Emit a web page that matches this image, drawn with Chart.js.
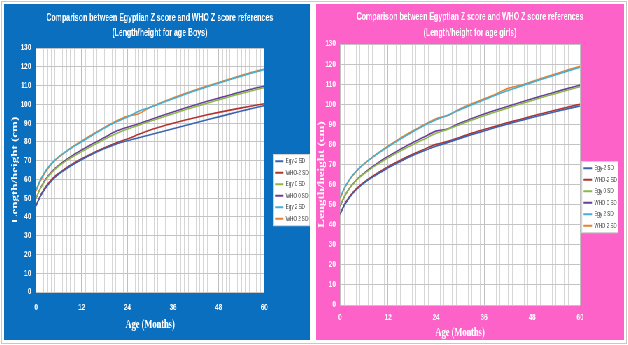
<!DOCTYPE html>
<html lang="en">
<head>
  <meta charset="UTF-8">
  <title>Egyptian vs WHO Z score - Length/height for age</title>
  <script src="https://cdn.jsdelivr.net/npm/chart.js"></script>
  <style>
    body {
      margin: 0;
      width: 628px;
      height: 345px;
      background: #fff;
      position: relative;
      overflow: hidden;
    }
    .frame {
      position: absolute;
      left: 1px; top: 1px;
      width: 624px; height: 341px;
      border: 1px solid #c8c8c8;
    }
    .panel {
      position: absolute;
      top: 4px;
      height: 336px;
      overflow: hidden;
    }
    #boysPanel { left: 4px; width: 306px; }
    #girlsPanel { left: 316px; width: 308px; }
    /* the reference is squeezed sideways, so draw wider and scale down */
    .inner {
      height: 336px;
      transform: scaleX(0.7);
      transform-origin: 0 0;
    }
    #boysPanel .inner { width: 437px; background: #0b6fc0; }
    #girlsPanel .inner { width: 440px; background: #fc62c8; }
  </style>
</head>
<body>
  <div class="frame"></div>
  <div class="panel" id="boysPanel"><div class="inner"><canvas id="boysChart"></canvas></div></div>
  <div class="panel" id="girlsPanel"><div class="inner"><canvas id="girlsChart"></canvas></div></div>

  <script>
    // age in months
    const months = [0,1,2,3,4,5,6,7,8,9,10,11,12,15,18,21,24,27,30,33,36,39,42,45,48,51,54,57,60];

    const seriesNames = ['Egy-2 SD', 'WHO-2 SD', 'Egy 0 SD', 'WHO 0 SD', 'Egy 2 SD', 'WHO 2 SD'];
    const seriesColors = ['#3b63b2', '#b0342e', '#8cb847', '#6a3d9e', '#44b0d2', '#ef7d2c'];

    // boys (cm)
    const boysEgyMinus2 = [45.8,50.3,53.8,56.7,59.1,61.1,62.8,64.3,65.7,67.0,68.2,69.4,70.5,73.6,76.4,78.8,80.6,82.2,83.8,85.4,87.0,88.6,90.2,91.8,93.3,94.9,96.4,97.9,99.3];
    const boysWhoMinus2 = [46.1,50.8,54.4,57.3,59.7,61.7,63.3,64.8,66.2,67.5,68.7,69.9,71.0,74.1,76.9,79.4,81.5,84.0,86.3,88.2,89.9,91.5,93.0,94.4,95.7,96.9,98.1,99.2,100.3];
    const boysEgy0 = [50.2,54.6,58.1,61.0,63.4,65.4,67.1,68.6,70.0,71.3,72.5,73.7,74.8,78.2,81.4,84.3,86.8,88.9,91.0,93.0,95.0,97.0,98.8,100.6,102.4,104.2,105.8,107.4,108.9];
    const boysWho0 = [49.9,54.7,58.4,61.4,63.9,65.9,67.6,69.2,70.6,72.0,73.3,74.5,75.7,79.1,82.3,85.6,87.8,89.6,91.8,93.9,95.9,97.9,99.8,101.6,103.3,105.0,106.7,108.3,109.6];
    const boysEgyPlus2 = [54.5,59.3,63.0,66.0,68.4,70.4,72.1,73.6,75.0,76.3,77.6,78.8,80.0,83.8,87.4,90.6,93.2,96.3,98.4,100.7,103.0,105.2,107.4,109.4,111.3,113.2,115.0,116.8,118.5];
    const boysWhoPlus2 = [53.7,58.6,62.4,65.5,68.0,70.1,71.9,73.5,75.0,76.5,77.9,79.2,80.5,84.2,87.7,91.0,93.6,95.0,98.4,101.0,103.4,105.6,107.7,109.7,111.6,113.5,115.4,117.2,118.8];

    // girls (cm)
    const girlsEgyMinus2 = [45.0,49.3,52.5,55.1,57.3,59.1,60.7,62.2,63.5,64.8,66.0,67.1,68.3,71.4,74.3,76.8,79.1,81.0,83.0,84.9,86.7,88.5,90.2,91.8,93.4,94.9,96.4,97.8,99.1];
    const girlsWhoMinus2 = [45.4,49.8,53.0,55.6,57.8,59.6,61.2,62.7,64.0,65.3,66.5,67.7,68.9,72.0,74.9,77.5,80.0,81.5,83.6,85.6,87.4,89.1,90.9,92.4,94.1,95.6,97.1,98.6,100.0];
    const girlsEgy0 = [49.6,53.9,57.1,59.7,61.9,63.8,65.4,66.9,68.3,69.6,70.9,72.1,73.3,76.6,79.7,82.6,85.5,87.6,89.9,92.2,94.3,96.3,98.2,100.1,101.9,103.7,105.4,107.1,108.7];
    const girlsWho0 = [49.1,53.7,57.1,59.8,62.1,64.0,65.7,67.3,68.7,70.1,71.5,72.8,74.0,77.5,80.7,83.7,86.6,87.8,90.7,92.9,95.1,97.1,99.0,100.9,102.7,104.5,106.2,107.9,109.5];
    const girlsEgyPlus2 = [53.6,58.1,61.5,64.3,66.6,68.6,70.3,71.9,73.4,74.8,76.2,77.5,78.8,82.6,86.1,89.4,92.3,94.6,97.3,99.8,102.2,104.6,106.8,108.9,110.9,112.8,114.7,116.6,118.4];
    const girlsWhoPlus2 = [52.9,57.6,61.1,64.0,66.4,68.5,70.3,71.9,73.5,75.0,76.4,77.8,79.2,83.0,86.5,89.8,92.8,94.4,97.7,100.3,102.7,105.1,107.9,109.4,111.3,113.3,115.2,117.1,118.9];

    const yTicks = { min: 0, max: 130, step: 10 };
    const xTicks = { min: 0, max: 60, major: 12 };

    // white plot area + white legend box
    const whiteBoxes = {
      id: 'whiteBoxes',
      beforeDraw(chart) {
        const { ctx, chartArea: a } = chart;
        ctx.save();
        ctx.fillStyle = '#fff';
        ctx.fillRect(a.left, a.top, a.right - a.left, a.bottom - a.top);
        const hb = chart.legend && chart.legend.legendHitBoxes;
        if (hb && hb.length) {
          const l = Math.min(...hb.map(h => h.left)) - 3;
          const r = Math.max(...hb.map(h => h.left + h.width)) + 2;
          const t = Math.min(...hb.map(h => h.top)) - 4;
          const b = Math.max(...hb.map(h => h.top + h.height)) + 4;
          ctx.fillRect(l, t, r - l, b - t);
          ctx.strokeStyle = '#cfcfcf';
          ctx.lineWidth = 1;
          ctx.strokeRect(l + 0.5, t + 0.5, r - l - 1, b - t - 1);
        }
        ctx.restore();
      }
    };

    function makeChart(id, titleLines, series, geo) {
      const datasets = series.map((vals, i) => ({
        label: seriesNames[i],
        data: months.map((m, k) => ({ x: m, y: vals[k] })),
        borderColor: seriesColors[i],
        backgroundColor: seriesColors[i],
        borderWidth: 1.6,
        pointRadius: 0,
        cubicInterpolationMode: 'monotone',
        fill: false
      }));

      const tickFont = { family: "'Liberation Sans', Arial, sans-serif", size: 9, weight: 'bold' };
      const axisTitleFont = { family: "'Liberation Serif', serif", size: 13, weight: 'bold' };

      new Chart(document.getElementById(id), {
        type: 'line',
        data: { datasets },
        options: {
          responsive: true,
          maintainAspectRatio: false,
          animation: false,
          layout: { padding: { left: 0, right: geo.padRight, top: 0, bottom: 0 } },
          plugins: {
            title: {
              display: true,
              text: titleLines,
              color: '#fff',
              font: { family: "'Liberation Sans Narrow', 'Liberation Sans', Arial, sans-serif", size: 10, weight: 'bold', lineHeight: geo.titleLH },
              padding: { top: geo.titleTop, bottom: geo.titleBottom }
            },
            legend: {
              position: 'right',
              fullSize: false,
              title: { display: true, text: ' ', font: { size: 6 }, padding: { top: geo.legendShift, bottom: 0 } },
              labels: {
                color: '#404040',
                font: { family: "'Liberation Sans', Arial, sans-serif", size: 6.5 },
                boxWidth: 12,
                boxHeight: 2,
                padding: 5,
                generateLabels: chart =>
                  Chart.defaults.plugins.legend.labels.generateLabels(chart).map(l => ({ ...l, lineWidth: 0 }))
              }
            },
            tooltip: { enabled: false }
          },
          scales: {
            x: {
              type: 'linear',
              min: xTicks.min,
              max: xTicks.max,
              ticks: {
                stepSize: 1,
                autoSkip: false,
                maxTicksLimit: 100,
                maxRotation: 0,
                color: '#fff',
                font: tickFont,
                padding: geo.xTickPad,
                callback: v => (v % xTicks.major === 0 ? v : '')
              },
              grid: {
                drawTicks: false,
                color: c => (c.tick && c.tick.value % xTicks.major === 0 ? '#c0c0c0' : '#d6d6d6')
              },
              border: { display: false },
              title: {
                display: true,
                text: 'Age (Months)',
                color: '#fff',
                font: { ...axisTitleFont, size: 12 },
                padding: { top: 0, bottom: geo.xTitlePad }
              },
              afterFit: s => { s.height = geo.xAxisH; }
            },
            y: {
              min: yTicks.min,
              max: yTicks.max,
              ticks: { stepSize: yTicks.step, color: '#fff', font: tickFont, padding: geo.yTickPad },
              grid: { drawTicks: false, color: '#c4c4c4' },
              border: { display: false },
              title: {
                display: true,
                text: 'Length/height (cm)',
                color: '#fff',
                font: axisTitleFont,
                padding: { top: geo.yTitlePad, bottom: 0 }
              },
              afterFit: s => { s.width = geo.yAxisW; }
            },
            gap: {
              type: 'linear',
              position: 'right',
              display: geo.gapW > 0,
              ticks: { display: false },
              grid: { display: false, drawTicks: false },
              border: { display: false },
              afterFit: s => { s.width = geo.gapW; }
            }
          }
        },
        plugins: [whiteBoxes]
      });
    }

    makeChart('boysChart',
      ['Comparison between Egyptian Z score and WHO Z score references', '(Length/height for age Boys)'],
      [boysEgyMinus2, boysWhoMinus2, boysEgy0, boysWho0, boysEgyPlus2, boysWhoPlus2],
      { padRight: -8, titleLH: 1.5, titleTop: 6.5, titleBottom: 7.5, legendShift: 33,
        xTickPad: 10, xTitlePad: 8, xAxisH: 48, yTickPad: 7, yTitlePad: 8, yAxisW: 45.7, gapW: 10.4 });

    makeChart('girlsChart',
      ['Comparison between Egyptian Z score and WHO Z score references', '(Length/height for age girls)'],
      [girlsEgyMinus2, girlsWhoMinus2, girlsEgy0, girlsWho0, girlsEgyPlus2, girlsWhoPlus2],
      { padRight: 0, titleLH: 1.6, titleTop: 5, titleBottom: 3, legendShift: 38,
        xTickPad: 7, xTitlePad: 0, xAxisH: 35, yTickPad: 6, yTitlePad: 0, yAxisW: 34.3, gapW: 0 });
  </script>
</body>
</html>
